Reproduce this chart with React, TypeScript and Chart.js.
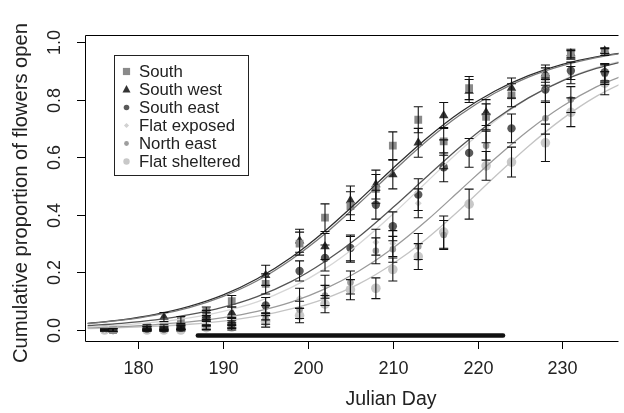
import React, { useEffect, useRef } from 'react';
import { Chart, registerables } from 'chart.js';
Chart.register(...registerables);

const X_MIN = 173.69;
const X_MAX = 236.62;
const Y_MIN = -0.0382;
const Y_MAX = 1.0243;

const xTicks = [180, 190, 200, 210, 220, 230];
const yTicks = [0, 0.2, 0.4, 0.6, 0.8, 1.0];
const yTickLabels = ['0.0', '0.2', '0.4', '0.6', '0.8', '1.0'];
const xTitle = 'Julian Day';
const yTitle = 'Cumulative proportion of flowers open';
const seriesNames = ['South', 'South west', 'South east', 'Flat exposed', 'North east', 'Flat sheltered'];

// fitted curves
const curveDays = [174, 178, 182, 186, 190, 194, 198, 202, 206, 210, 214, 218, 222, 226, 230, 234, 238];
const southCurve = [0.022, 0.034, 0.052, 0.078, 0.117, 0.171, 0.244, 0.334, 0.439, 0.55, 0.656, 0.748, 0.822, 0.878, 0.918, 0.946, 0.965];
const southWestCurve = [0.023, 0.035, 0.054, 0.082, 0.122, 0.178, 0.252, 0.344, 0.45, 0.561, 0.666, 0.757, 0.829, 0.883, 0.922, 0.948, 0.966];
const southEastCurve = [0.015, 0.023, 0.035, 0.053, 0.079, 0.116, 0.168, 0.238, 0.324, 0.425, 0.532, 0.637, 0.73, 0.806, 0.865, 0.908, 0.938];
const flatExposedCurve = [0.011, 0.017, 0.027, 0.042, 0.065, 0.098, 0.147, 0.213, 0.299, 0.402, 0.514, 0.625, 0.724, 0.805, 0.867, 0.911, 0.942];
const northEastCurve = [0.008, 0.012, 0.019, 0.028, 0.043, 0.065, 0.097, 0.143, 0.205, 0.284, 0.38, 0.487, 0.594, 0.693, 0.777, 0.844, 0.893];
const flatShelteredCurve = [0.005, 0.008, 0.013, 0.02, 0.031, 0.048, 0.073, 0.109, 0.16, 0.23, 0.317, 0.42, 0.531, 0.638, 0.733, 0.811, 0.87];

// observed points
const southDays = [177, 181, 183, 185, 188, 191, 195, 199, 202, 205, 208, 210, 213, 216, 219, 221, 224, 228, 231, 235];
const southVals = [0.0, 0.01, 0.01, 0.035, 0.065, 0.1, 0.16, 0.3, 0.39, 0.43, 0.49, 0.64, 0.73, 0.655, 0.84, 0.74, 0.815, 0.88, 0.955, 0.965];
const southErr = [0.005, 0.008, 0.008, 0.012, 0.015, 0.02, 0.035, 0.04, 0.048, 0.05, 0.05, 0.048, 0.045, 0.048, 0.04, 0.045, 0.04, 0.03, 0.015, 0.012];

const southWestDays = [177, 181, 183, 185, 188, 191, 195, 199, 202, 205, 208, 210, 213, 216, 219, 221, 224, 228, 231, 235];
const southWestVals = [0.0, 0.005, 0.045, 0.01, 0.05, 0.06, 0.19, 0.31, 0.29, 0.45, 0.505, 0.54, 0.65, 0.745, 0.83, 0.755, 0.84, 0.89, 0.96, 0.97];
const southWestErr = [0.004, 0.006, 0.016, 0.008, 0.018, 0.02, 0.035, 0.04, 0.045, 0.05, 0.05, 0.05, 0.05, 0.045, 0.04, 0.045, 0.035, 0.03, 0.015, 0.01];

const southEastDays = [177, 181, 183, 185, 188, 191, 195, 199, 202, 205, 208, 210, 213, 216, 219, 224, 228, 231, 235];
const southEastVals = [0.0, 0.005, 0.005, 0.008, 0.045, 0.02, 0.085, 0.205, 0.25, 0.285, 0.435, 0.36, 0.47, 0.565, 0.615, 0.7, 0.835, 0.9, 0.895];
const southEastErr = [0.004, 0.006, 0.006, 0.006, 0.015, 0.012, 0.028, 0.035, 0.045, 0.045, 0.05, 0.05, 0.055, 0.05, 0.05, 0.05, 0.04, 0.03, 0.03];

const flatExposedDays = [176, 181, 183, 185, 188, 191, 195, 199, 202, 205, 208, 210, 213, 216, 221, 228, 231, 235];
const flatExposedVals = [0.0, 0.008, 0.005, 0.01, 0.025, 0.03, 0.06, 0.11, 0.15, 0.28, 0.305, 0.3, 0.44, 0.61, 0.7, 0.83, 0.885, 0.89];
const flatExposedErr = [0.003, 0.005, 0.005, 0.006, 0.012, 0.014, 0.025, 0.035, 0.04, 0.045, 0.045, 0.045, 0.05, 0.05, 0.05, 0.04, 0.03, 0.03];

const northEastDays = [176, 181, 183, 185, 188, 191, 195, 199, 202, 205, 208, 210, 213, 216, 221, 228, 231, 235];
const northEastVals = [0.0, 0.0, 0.0, 0.005, 0.01, 0.015, 0.04, 0.07, 0.12, 0.165, 0.275, 0.28, 0.29, 0.33, 0.64, 0.735, 0.8, 0.888];
const northEastErr = [0.003, 0.004, 0.004, 0.005, 0.008, 0.01, 0.02, 0.03, 0.035, 0.04, 0.045, 0.045, 0.045, 0.05, 0.05, 0.055, 0.045, 0.035];

const flatShelteredDays = [176, 181, 183, 185, 188, 191, 195, 199, 202, 205, 208, 210, 213, 216, 219, 221, 224, 228, 231, 235];
const flatShelteredVals = [0.0, 0.0, 0.0, 0.0, 0.008, 0.01, 0.03, 0.05, 0.09, 0.14, 0.145, 0.21, 0.255, 0.34, 0.437, 0.57, 0.583, 0.65, 0.756, 0.857];
const flatShelteredErr = [0.003, 0.003, 0.003, 0.003, 0.008, 0.01, 0.02, 0.025, 0.03, 0.035, 0.036, 0.04, 0.045, 0.056, 0.052, 0.05, 0.052, 0.065, 0.05, 0.04];

// flowering period bar
const barDays = [187, 223];
const barLevel = -0.019;

const FONT = '"Liberation Sans", Arial, Helvetica, sans-serif';

const groups = [
  { name: seriesNames[0], days: southDays, vals: southVals, err: southErr, curve: southCurve, curveColor: '#7a7a7a', color: '#8a8a8a', style: 'rect', radius: 5.5, legendR: 3.6 },
  { name: seriesNames[1], days: southWestDays, vals: southWestVals, err: southWestErr, curve: southWestCurve, curveColor: '#2e2e2e', color: '#333333', style: 'triangle', radius: 5.5, legendR: 4 },
  { name: seriesNames[2], days: southEastDays, vals: southEastVals, err: southEastErr, curve: southEastCurve, curveColor: '#555555', color: '#5a5a5a', style: 'circle', radius: 4.2, legendR: 2.8 },
  { name: seriesNames[3], days: flatExposedDays, vals: flatExposedVals, err: flatExposedErr, curve: flatExposedCurve, curveColor: '#d6d6d6', color: '#d2d2d2', style: 'rectRot', radius: 3.5, legendR: 2.6 },
  { name: seriesNames[4], days: northEastDays, vals: northEastVals, err: northEastErr, curve: northEastCurve, curveColor: '#9a9a9a', color: '#9e9e9e', style: 'circle', radius: 3.3, legendR: 2.4 },
  { name: seriesNames[5], days: flatShelteredDays, vals: flatShelteredVals, err: flatShelteredErr, curve: flatShelteredCurve, curveColor: '#c4c4c4', color: '#c8c8c8', style: 'circle', radius: 4.8, legendR: 3.2 },
];

function drawMarker(ctx: CanvasRenderingContext2D, style: string, x: number, y: number, r: number, color: string) {
  ctx.save();
  ctx.fillStyle = color;
  ctx.beginPath();
  if (style === 'rect') {
    ctx.rect(x - r, y - r, 2 * r, 2 * r);
  } else if (style === 'triangle') {
    ctx.moveTo(x, y - r * 1.15);
    ctx.lineTo(x + r, y + r * 0.75);
    ctx.lineTo(x - r, y + r * 0.75);
    ctx.closePath();
  } else if (style === 'rectRot') {
    ctx.moveTo(x, y - r);
    ctx.lineTo(x + r, y);
    ctx.lineTo(x, y + r);
    ctx.lineTo(x - r, y);
    ctx.closePath();
  } else {
    ctx.arc(x, y, r, 0, Math.PI * 2);
  }
  ctx.fill();
  ctx.restore();
}

const decorPlugin = {
  id: 'decor',
  afterDatasetsDraw(chart: any) {
    const ctx = chart.ctx as CanvasRenderingContext2D;
    const xs = chart.scales.x;
    const ys = chart.scales.y;
    const area = chart.chartArea;
    ctx.save();
    ctx.beginPath();
    ctx.rect(area.left, area.top, area.right - area.left, area.bottom - area.top);
    ctx.clip();
    ctx.strokeStyle = '#111';
    ctx.lineWidth = 1.1;
    groups.forEach((g) => {
      g.days.forEach((d, i) => {
        const x = xs.getPixelForValue(d);
        const lo = ys.getPixelForValue(Math.max(g.vals[i] - g.err[i], -0.01));
        const hi = ys.getPixelForValue(g.vals[i] + g.err[i]);
        ctx.beginPath();
        ctx.moveTo(x, lo);
        ctx.lineTo(x, hi);
        ctx.moveTo(x - 4.5, lo);
        ctx.lineTo(x + 4.5, lo);
        ctx.moveTo(x - 4.5, hi);
        ctx.lineTo(x + 4.5, hi);
        ctx.stroke();
      });
    });
    ctx.restore();
  },
  afterDraw(chart: any) {
    const ctx = chart.ctx as CanvasRenderingContext2D;
    const xs = chart.scales.x;
    const ys = chart.scales.y;
    const area = chart.chartArea;
    ctx.save();
    ctx.strokeStyle = '#000';
    ctx.lineWidth = 1;
    // box (left, top, bottom)
    ctx.beginPath();
    ctx.moveTo(area.right, area.top + 0.5);
    ctx.lineTo(area.left + 0.5, area.top + 0.5);
    ctx.lineTo(area.left + 0.5, area.bottom + 0.5);
    ctx.lineTo(area.right, area.bottom + 0.5);
    ctx.stroke();
    ctx.fillStyle = '#222';
    ctx.font = `18px ${FONT}`;
    // x ticks
    ctx.textAlign = 'center';
    ctx.textBaseline = 'middle';
    xTicks.forEach((t) => {
      const x = Math.round(xs.getPixelForValue(t)) + 0.5;
      ctx.beginPath();
      ctx.moveTo(x, area.bottom);
      ctx.lineTo(x, area.bottom + 8);
      ctx.stroke();
      ctx.fillText(String(t), x, 369.5);
    });
    // y ticks
    yTicks.forEach((t, i) => {
      const y = Math.round(ys.getPixelForValue(t)) + 0.5;
      ctx.beginPath();
      ctx.moveTo(area.left, y);
      ctx.lineTo(area.left - 8, y);
      ctx.stroke();
      ctx.save();
      ctx.translate(55, y);
      ctx.rotate(-Math.PI / 2);
      ctx.fillText(yTickLabels[i], 0, 0);
      ctx.restore();
    });
    // titles
    ctx.font = `19.5px ${FONT}`;
    ctx.fillText(xTitle, 391, 400);
    ctx.save();
    ctx.font = `20.2px ${FONT}`;
    ctx.translate(21, 193);
    ctx.rotate(-Math.PI / 2);
    ctx.fillText(yTitle, 0, 0);
    ctx.restore();
    // legend
    const lx = 114.5, ly = 55.5, lw = 134, lh = 120;
    ctx.fillStyle = '#fff';
    ctx.fillRect(lx, ly, lw, lh);
    ctx.strokeStyle = '#222';
    ctx.strokeRect(lx, ly, lw, lh);
    ctx.font = `16.8px ${FONT}`;
    ctx.textAlign = 'left';
    groups.forEach((g, i) => {
      const y = 71.5 + i * 18;
      drawMarker(ctx, g.style, 126.5, y, g.legendR, g.color);
      ctx.fillStyle = '#222';
      ctx.fillText(g.name, 139, y + 0.5);
    });
    ctx.restore();
  },
};

export default function App() {
  const canvasRef = useRef<HTMLCanvasElement | null>(null);
  useEffect(() => {
    const canvas = canvasRef.current;
    if (!canvas) return;
    const datasets: any[] = [];
    groups.forEach((g) => {
      datasets.push({
        type: 'line',
        data: curveDays.map((d, i) => ({ x: d, y: g.curve[i] })),
        borderColor: g.curveColor,
        borderWidth: 1.3,
        pointRadius: 0,
        cubicInterpolationMode: 'monotone',
        fill: false,
        order: 1,
      });
    });
    groups.forEach((g) => {
      datasets.push({
        type: 'line',
        data: g.days.map((d, i) => ({ x: d, y: g.vals[i] })),
        showLine: false,
        pointStyle: g.style,
        pointRadius: g.radius,
        pointBackgroundColor: g.color,
        pointBorderColor: g.color,
        pointBorderWidth: 0,
        order: 2,
      });
    });
    datasets.push({
      type: 'line',
      data: barDays.map((d) => ({ x: d, y: barLevel })),
      borderColor: '#111',
      borderWidth: 4.5,
      borderCapStyle: 'round',
      pointRadius: 0,
      order: 0,
    });
    const chart = new Chart(canvas, {
      type: 'line',
      data: { datasets },
      options: {
        animation: false,
        responsive: false,
        maintainAspectRatio: false,
        layout: { padding: { left: 85, top: 35, right: 0, bottom: 72 } },
        plugins: { legend: { display: false }, tooltip: { enabled: false } },
        scales: {
          x: { type: 'linear', min: X_MIN, max: X_MAX, display: false },
          y: { type: 'linear', min: Y_MIN, max: Y_MAX, display: false },
        },
      },
      plugins: [decorPlugin],
    } as any);
    return () => chart.destroy();
  }, []);
  return (
    <div style={{ position: 'fixed', left: 0, top: 0, width: 624, height: 413, background: '#fff' }}>
      <canvas ref={canvasRef} width={624} height={413} style={{ width: 624, height: 413, display: 'block' }} />
    </div>
  );
}
